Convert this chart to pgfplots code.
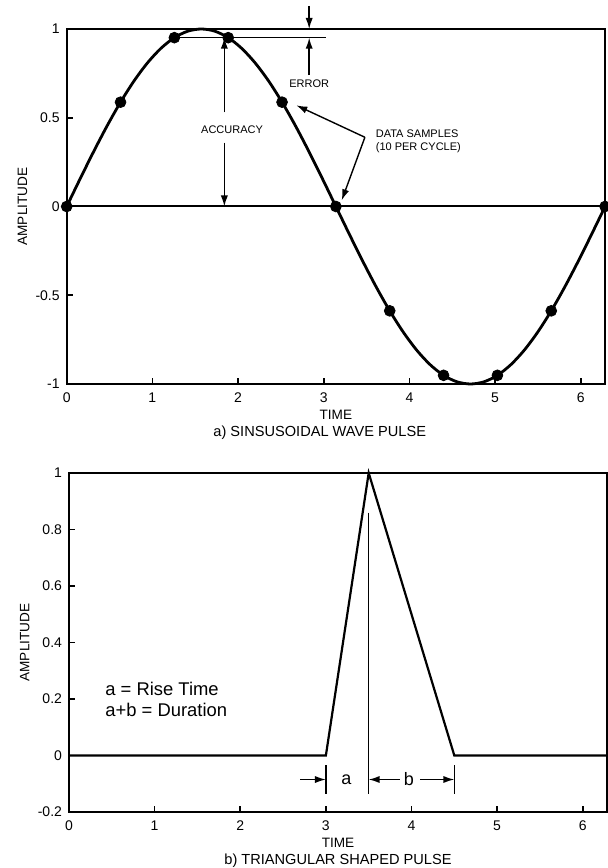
\documentclass[border=0pt]{standalone}
\usepackage{fontspec}
\setmainfont{Liberation Sans}
\usepackage{pgfplots}
\pgfplotsset{compat=1.18}
\usetikzlibrary{arrows.meta}

\pgfplotsset{
  pulse/.style={
    scale only axis, clip=false,
    axis line style={line width=1pt},
    xmin=0, xmax=6.2832,
    xtick={0,1,2,3,4,5,6},
    tick align=inside, xtick pos=bottom, ytick pos=left,
    major tick length=3pt,
    tick style={line width=0.8pt, black},
    ticklabel style={font=\fontsize{7}{8}\selectfont},
    xticklabel style={yshift=-0.8pt},
    /pgf/number format/assume math mode=true,
    xlabel={TIME}, ylabel={AMPLITUDE},
    label style={font=\fontsize{6.8}{8}\selectfont},
    xlabel style={at={(axis description cs:0.5,0)}, anchor=center, yshift=-15.5pt},
    ylabel style={at={(axis description cs:-0.082,0.5)}, anchor=center},
  },
}
\tikzset{
  ann/.style={line width=0.7pt, -{Latex[length=5.5pt,width=3.6pt]}},
  note/.style={font=\fontsize{5.5}{6.5}\selectfont, inner sep=1pt},
  captxt/.style={font=\fontsize{7.3}{8.5}\selectfont},
}

\begin{document}
\begin{tikzpicture}

% a) sine wave
\begin{axis}[pulse,
  at={(-1.15pt,214pt)}, anchor=south west,
  width=269.2pt, height=177.5pt,
  ymin=-1, ymax=1, ytick={-1,-0.5,0,0.5,1},
]
\addplot[black, line width=1pt] coordinates {(0,0) (6.2832,0)};
\addplot[black, line width=1.4pt, smooth] coordinates {
  (0,0) (0.1571,0.1564) (0.3142,0.3090) (0.4712,0.4540) (0.6283,0.5878)
  (0.7854,0.7071) (0.9425,0.8090) (1.0996,0.8910) (1.2566,0.9511) (1.4137,0.9877)
  (1.5708,1) (1.7279,0.9877) (1.8850,0.9511) (2.0420,0.8910) (2.1991,0.8090)
  (2.3562,0.7071) (2.5133,0.5878) (2.6704,0.4540) (2.8274,0.3090) (2.9845,0.1564)
  (3.1416,0) (3.2987,-0.1564) (3.4558,-0.3090) (3.6128,-0.4540) (3.7699,-0.5878)
  (3.9270,-0.7071) (4.0841,-0.8090) (4.2412,-0.8910) (4.3982,-0.9511) (4.5553,-0.9877)
  (4.7124,-1) (4.8695,-0.9877) (5.0265,-0.9511) (5.1836,-0.8910) (5.3407,-0.8090)
  (5.4978,-0.7071) (5.6549,-0.5878) (5.8119,-0.4540) (5.9690,-0.3090) (6.1261,-0.1564)
  (6.2832,0)
};
% data samples, 10 per cycle
\addplot[only marks, mark=*, mark size=2.7pt, black] coordinates {
  (0,0) (0.6283,0.5878) (1.2566,0.9511) (1.8850,0.9511) (2.5133,0.5878)
  (3.1416,0) (3.7699,-0.5878) (4.3982,-0.9511) (5.0265,-0.9511) (5.6549,-0.5878)
  (6.2832,0)
};
\addplot[black, line width=0.8pt] coordinates {(1.2566,0.9511) (3.03,0.9511)};

% error
\draw[ann] (axis cs:2.83,1.13) -- (axis cs:2.83,1);
\draw[ann] (axis cs:2.83,0.74) -- (axis cs:2.83,0.9511);
\node[note] at (axis cs:2.83,0.69) {ERROR};
% accuracy
\draw[ann] (axis cs:1.84,0.53) -- (axis cs:1.84,0.9511);
\draw[ann] (axis cs:1.84,0.36) -- (axis cs:1.84,0);
\node[note] at (axis cs:1.93,0.435) {ACCURACY};
% data samples
\node[note, align=left, anchor=west] at (axis cs:3.58,0.37) {DATA SAMPLES\\(10 PER CYCLE)};
\draw[ann] (axis cs:3.48,0.39) -- (axis cs:2.68,0.57);
\draw[ann] (axis cs:3.48,0.39) -- (axis cs:3.21,0.035);

\node[captxt] at (axis description cs:0.47,0) [yshift=-24.5pt] {a) SINSUSOIDAL WAVE PULSE};
\end{axis}

% b) triangular pulse
\begin{axis}[pulse,
  at={(0pt,0pt)}, anchor=south west,
  width=269pt, height=169.5pt,
  ymin=-0.2, ymax=1, ytick={-0.2,0,0.2,0.4,0.6,0.8,1},
]
\addplot[black, line width=1.1pt] coordinates {
  (0,0) (3,0) (3.5,1) (4.5,0) (6.2832,0)
};
\draw[line width=0.7pt] (axis cs:3.5,0.86) -- (axis cs:3.5,-0.135);
\draw[line width=0.7pt] (axis cs:3,-0.035) -- (axis cs:3,-0.135);
\draw[line width=0.7pt] (axis cs:4.5,-0.035) -- (axis cs:4.5,-0.135);
\draw[ann] (axis cs:2.70,-0.085) -- (axis cs:3,-0.085);
\draw[ann] (axis cs:3.86,-0.085) -- (axis cs:3.5,-0.085);
\draw[ann] (axis cs:4.10,-0.085) -- (axis cs:4.5,-0.085);
\node[font=\fontsize{9}{10}\selectfont] at (axis cs:3.24,-0.085) {a};
\node[font=\fontsize{9}{10}\selectfont] at (axis cs:3.97,-0.085) {b};
\node[font=\fontsize{9.2}{10.5}\selectfont, align=left, anchor=west, inner sep=0pt]
  at (axis cs:0.42,0.2) {a = Rise Time\\a+b = Duration};

\node[captxt] at (axis description cs:0.5,0) [yshift=-24.5pt] {b) TRIANGULAR SHAPED PULSE};
\end{axis}

\pgfresetboundingbox
\path[use as bounding box] (-34.5pt,-28pt) rectangle (269.5pt,406pt);
\end{tikzpicture}
\end{document}
